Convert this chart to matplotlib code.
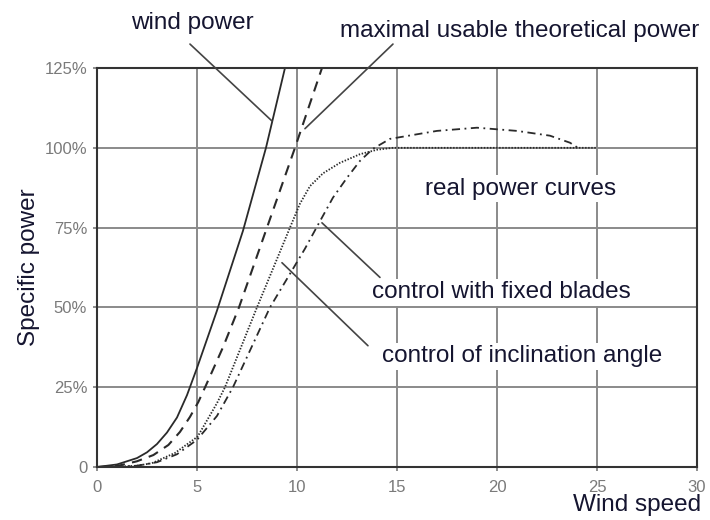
import matplotlib
matplotlib.use("Agg")
import matplotlib.pyplot as plt

plt.rcParams['font.family'] = ['Liberation Sans', 'DejaVu Sans']

# wind power (solid)
wind_x = [0, 1, 2, 2.5, 3, 3.5, 4, 4.5, 5, 5.5, 6, 7.3, 8.45, 9.4]
wind_y = [0, 0.8, 2.8, 4.6, 7.2, 10.8, 15.5, 22.5, 31, 40, 49, 74, 100, 125]

# maximal usable theoretical power (dashed)
maxp_x = [0, 1, 2, 2.82, 3.57, 4.15, 4.65, 5.07, 5.45, 6.3, 7.1, 8.5, 9.9, 11.25]
maxp_y = [0, 0.3, 1.8, 3.75, 6.9, 11, 15.7, 20.4, 25.6, 37.5, 50, 75, 100, 125]

# real power curve, dotted
dot_x = [0, 1, 2, 2.75, 3.9, 5.03, 6.0, 6.4, 8.0, 9.65, 10.15, 10.65, 11.3, 12.15, 13.15, 14, 14.8, 25]
dot_y = [0, 0.1, 0.4, 1.2, 4.4, 9.5, 20, 25, 50, 75, 82.5, 88, 92, 95.3, 98, 99.4, 100, 100]

# real power curve, dash-dot
dd_x = [0, 1, 2, 3, 4, 5, 6, 6.8, 8.65, 10.4, 11.15, 11.8, 12.5, 13.15, 13.8, 14.65,
        17, 19, 21, 22.65, 23.65, 24.05]
dd_y = [0, 0.1, 0.4, 1.5, 4, 8.5, 16, 25, 50, 68.4, 77, 84.4, 90.6, 95.9, 99.7, 102.8,
        105.3, 106.3, 105.3, 103.8, 101.6, 100]

x_ticks = [0, 5, 10, 15, 20, 25, 30]
y_ticks = [0, 25, 50, 75, 100, 125]
y_tick_labels = ['0', '25%', '50%', '75%', '100%', '125%']

fig = plt.figure(figsize=(7.1, 5.2), dpi=100)
ax = fig.add_axes([0.1366, 0.1019, 0.845, 0.7673])

line_col = '#2a2a2a'
ax.plot(wind_x, wind_y, '-', color=line_col, lw=1.3)
ax.plot(maxp_x, maxp_y, color=line_col, lw=1.5, dashes=(5, 3.5))
ax.plot(dot_x, dot_y, color=line_col, lw=1.3, dashes=(0.8, 0.9))
ax.plot(dd_x, dd_y, color=line_col, lw=1.3, dashes=(4.5, 2.5, 1, 2.5))

ax.set_xlim(0, 30)
ax.set_ylim(0, 125)
ax.set_xticks(x_ticks)
ax.set_yticks(y_ticks)
ax.set_yticklabels(y_tick_labels)
ax.grid(True, color='#8a8a8a', lw=1.4)
ax.set_axisbelow(True)
for s in ax.spines.values():
    s.set_color('#333333')
    s.set_linewidth(1.5)
ax.tick_params(colors='#7a7a7a', labelsize=12, length=3, width=1.2)
ax.tick_params(axis='x', pad=6)
ax.tick_params(axis='y', pad=4)

ax.set_ylabel('Specific power', fontsize=17.5, color='#151530', labelpad=3)
fig.text(0.987, 0.028, 'Wind speed', fontsize=17.5, color='#151530', ha='right', va='center')

txt = dict(fontsize=17.5, color='#151530', ha='center', va='center',
           bbox=dict(facecolor='white', edgecolor='none', pad=2))
lead = dict(arrowstyle='-', color='#444444', lw=1.2, shrinkA=0, shrinkB=0)

ax.text(4.75, 139, 'wind power', **txt, clip_on=False)
ax.text(21.15, 136.6, 'maximal usable theoretical power', **txt, clip_on=False)
ax.text(21.2, 87.2, 'real power curves', **txt)
ax.text(20.2, 54.7, 'control with fixed blades', **txt)
ax.text(21.25, 34.7, 'control of inclination angle', **txt)

ax.annotate('', xy=(8.75, 108.4), xytext=(4.65, 132.5), arrowprops=lead, annotation_clip=False)
ax.annotate('', xy=(10.4, 106), xytext=(14.8, 132.5), arrowprops=lead, annotation_clip=False)
ax.annotate('', xy=(11.25, 76.5), xytext=(14.15, 59.4), arrowprops=lead)
ax.annotate('', xy=(9.25, 64), xytext=(13.55, 38), arrowprops=lead)

fig.savefig('out.png', dpi=100)
